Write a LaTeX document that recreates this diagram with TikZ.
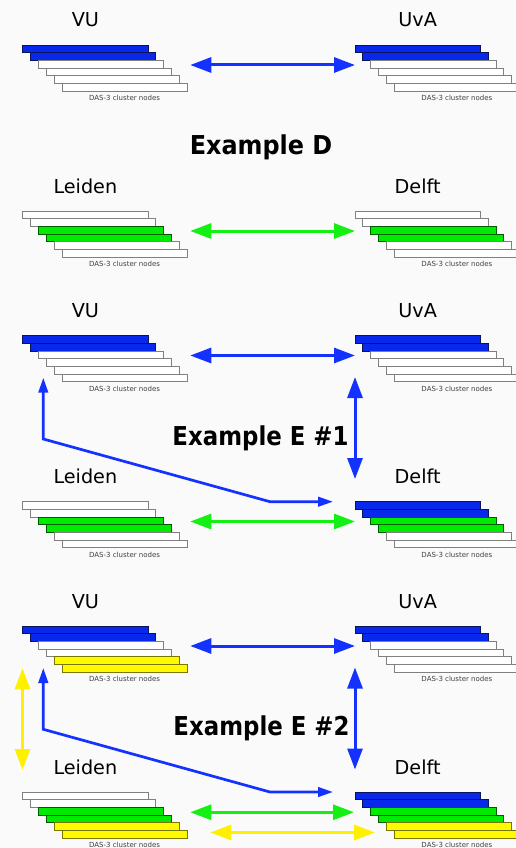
\documentclass[tikz,border=0pt]{standalone}
\usepackage{fontspec}
\setmainfont{DejaVu Sans}
\usetikzlibrary{arrows.meta,calc}
\definecolor{bgc}{RGB}{250,250,250}
\definecolor{cblue}{RGB}{8,40,235}
\definecolor{cblueD}{RGB}{10,20,90}
\definecolor{cgreen}{RGB}{0,235,0}
\definecolor{cgreenD}{RGB}{0,90,0}
\definecolor{cyellow}{RGB}{255,250,0}
\definecolor{cyellowD}{RGB}{120,120,0}
\definecolor{ablue}{RGB}{20,50,255}
\definecolor{agreen}{RGB}{20,240,20}
\definecolor{ayellow}{RGB}{255,240,0}
\tikzset{
 bar/.style={draw, line width=0.8pt, minimum width=125.3pt, minimum height=7.7pt, inner sep=0pt, outer sep=0pt, anchor=north west},
 barW/.style={bar, fill=white, draw=black!50},
 barB/.style={bar, fill=cblue, draw=cblueD},
 barG/.style={bar, fill=cgreen, draw=cgreenD},
 barY/.style={bar, fill=cyellow, draw=cyellowD},
 site/.style={font=\fontsize{19.2}{22}\selectfont, anchor=base, inner sep=0pt},
 caption/.style={font=\fontsize{7}{8}\selectfont, text=black!75, anchor=base, inner sep=0pt},
 example/.style={font=\bfseries\fontsize{26}{30}\selectfont, anchor=base, inner sep=0pt, xscale=0.88},
 link/.style={line width=3pt, {Triangle[length=21pt,width=15pt]}-{Triangle[length=21pt,width=15pt]}},
 route/.style={line width=2.7pt, {Triangle[length=15pt,width=9.5pt]}-{Triangle[length=15pt,width=9.5pt]}},
}
\newcommand\clusterstack[5]{%
 \foreach \s [count=\i] in {#5} {
   \node[\s] (#1-\i) at ({#2+(\i-1)*7.85}, {#3+(\i-1)*7.7}) {};
 }
 \node[site] (#1-site) at ({#2+62.65}, {#3-18}) {#4};
 \node[caption] (#1-cap) at ({#2+39.25+62.65}, {#3+55.5}) {DAS-3 cluster nodes};
}
\begin{document}
\begin{tikzpicture}[x=1pt,y=-1pt]
\useasboundingbox (0,0) rectangle (515,848);
\fill[bgc] (0,0) rectangle (515,848);
% section A
\clusterstack{vuA}{22.7}{45}{VU}{barB,barB,barW,barW,barW,barW}
\clusterstack{uvaA}{355}{45}{UvA}{barB,barB,barW,barW,barW,barW}
\node[example, xscale=1.045] (exD) at (261,154) {Example D};
% section B
\clusterstack{leidenB}{22.7}{211}{Leiden}{barW,barW,barG,barG,barW,barW}
\clusterstack{delftB}{355}{211}{Delft}{barW,barW,barG,barG,barW,barW}
% section C/D
\clusterstack{vuC}{22.7}{335.5}{VU}{barB,barB,barW,barW,barW,barW}
\clusterstack{uvaC}{355}{335.5}{UvA}{barB,barB,barW,barW,barW,barW}
\clusterstack{leidenD}{22.7}{501.5}{Leiden}{barW,barW,barG,barG,barW,barW}
\clusterstack{delftD}{355}{501.5}{Delft}{barB,barB,barG,barG,barW,barW}
\node[example] (exE1) at (260.5,445) {Example E \#1};
% section E/F
\clusterstack{vuE}{22.7}{626}{VU}{barB,barB,barW,barW,barY,barY}
\clusterstack{uvaE}{355}{626}{UvA}{barB,barB,barW,barW,barW,barW}
\clusterstack{leidenF}{22.7}{792}{Leiden}{barW,barW,barG,barG,barY,barY}
\clusterstack{delftF}{355}{792}{Delft}{barB,barB,barG,barG,barY,barY}
\node[example] (exE2) at (261.5,735) {Example E \#2};

% horizontal links
\draw[link, ablue] ($(vuA-6.east |- vuA-3.center)+(3,0.75)$) -- ($(uvaA-1.west |- uvaA-3.center)+(0,0.75)$);
\draw[link, agreen] ($(leidenB-6.east |- leidenB-3.center)+(3,0.75)$) -- ($(delftB-1.west |- delftB-3.center)+(0,0.75)$);
\draw[link, ablue] ($(vuC-6.east |- vuC-3.center)+(3,0.75)$) -- ($(uvaC-1.west |- uvaC-3.center)+(0,0.75)$);
\draw[link, agreen] ($(leidenD-6.east |- leidenD-3.center)+(3,0.75)$) -- ($(delftD-1.west |- delftD-3.center)+(0,0.75)$);
\draw[link, ablue] ($(vuE-6.east |- vuE-3.center)+(3,0.75)$) -- ($(uvaE-1.west |- uvaE-3.center)+(0,0.75)$);
\draw[link, agreen] ($(leidenF-6.east |- leidenF-3.center)+(3,1)$) -- ($(delftF-1.west |- delftF-3.center)+(-1,1)$);
\draw[link, ayellow] ($(leidenF-6.east |- leidenF-6.north)+(23,2)$) -- ($(delftF-3.west |- delftF-6.north)+(4.3,2)$);

% vertical links UvA - Delft
\draw[link, ablue] ($(uvaC-1.west)+(0,37.65)$) -- ($(delftD-1.west)+(0,-26.35)$);
\draw[link, ablue] ($(uvaE-1.west)+(0,37.65)$) -- ($(delftF-1.west)+(0,-26.35)$);

% VU - Delft routes
\coordinate (rCa) at ($(vuC-1.south west)+(20.6,34.5)$);
\coordinate (rCb) at ($(rCa)+(0,61.3)$);
\coordinate (rCd) at ($(delftD-1.west)+(-22,-3.65)$);
\coordinate (rCc) at ($(rCd)+(-63,0)$);
\draw[route, ablue, line join=miter] (rCa) -- (rCb) -- (rCc) -- (rCd);
\coordinate (rEa) at ($(vuE-1.south west)+(20.6,34.3)$);
\coordinate (rEb) at ($(rEa)+(0,61.3)$);
\coordinate (rEd) at ($(delftF-1.west)+(-22,-3.85)$);
\coordinate (rEc) at ($(rEd)+(-63,0)$);
\draw[route, ablue, line join=miter] (rEa) -- (rEb) -- (rEc) -- (rEd);

% VU - Leiden yellow
\draw[link, ayellow] ($(vuE-1.south west)+(-0.2,34.6)$) -- ($(leidenF-1.north west)+(-0.2,-22)$);
\end{tikzpicture}
\end{document}
